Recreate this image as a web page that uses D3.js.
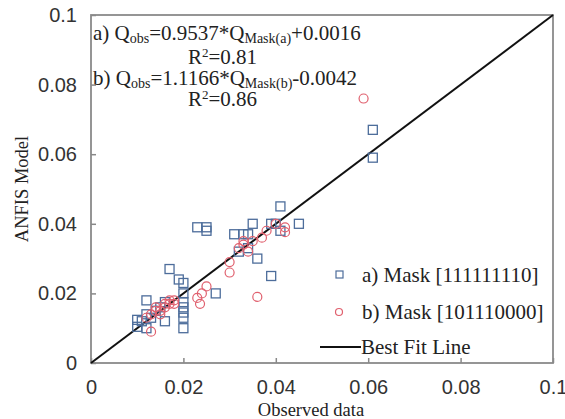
<!DOCTYPE html>
<html>
<head>
<meta charset="utf-8">
<script src="https://cdn.jsdelivr.net/npm/d3@7/dist/d3.min.js"></script>
<style>
  body { margin: 0; background: #fff; }
  svg { display: block; font-family: "Liberation Serif", "Times New Roman", serif; }
  .tick text { font-size: 20px; fill: #333; }
  .label { font-size: 18.5px; fill: #222; }
  .leg { font-size: 21px; fill: #222; }
  .eq { font-size: 21px; fill: #222; }
</style>
</head>
<body>
<svg width="565" height="419"></svg>
<script>
// **** Data ****
var maskA_obs = [0.061, 0.061, 0.045, 0.041, 0.041, 0.039, 0.035, 0.034, 0.033, 0.031,
                 0.025, 0.025, 0.023, 0.036, 0.039, 0.027, 0.017, 0.019, 0.020, 0.020,
                 0.020, 0.020, 0.020, 0.020, 0.020, 0.016, 0.016, 0.012, 0.012, 0.011,
                 0.010, 0.010, 0.012, 0.014, 0.015, 0.013, 0.034, 0.032, 0.040];
var maskA_model = [0.067, 0.059, 0.040, 0.045, 0.038, 0.040, 0.040, 0.037, 0.037, 0.037,
                   0.038, 0.039, 0.039, 0.030, 0.025, 0.020, 0.027, 0.024, 0.023, 0.0175,
                   0.016, 0.0145, 0.020, 0.013, 0.010, 0.0175, 0.012, 0.018, 0.014, 0.012,
                   0.0124, 0.0104, 0.010, 0.015, 0.016, 0.013, 0.033, 0.032, 0.040];

var maskB_obs = [0.059, 0.042, 0.040, 0.038, 0.037, 0.035, 0.034, 0.033, 0.032, 0.030,
                 0.030, 0.036, 0.024, 0.023, 0.0236, 0.025, 0.018, 0.017, 0.016, 0.015,
                 0.014, 0.013, 0.013, 0.016, 0.014, 0.015, 0.012, 0.017, 0.018, 0.033, 0.042];
var maskB_model = [0.076, 0.039, 0.040, 0.038, 0.036, 0.035, 0.032, 0.034, 0.033, 0.029,
                   0.026, 0.019, 0.020, 0.0187, 0.017, 0.022, 0.017, 0.017, 0.016, 0.015,
                   0.015, 0.014, 0.009, 0.017, 0.016, 0.014, 0.013, 0.018, 0.018, 0.035, 0.0376];

var ticks = [0, 0.02, 0.04, 0.06, 0.08, 0.1];
var fitLine = [0, 0.1];

// **** Scales and axes ****
var svg = d3.select('svg');
var plotL = 91, plotR = 553, plotT = 15, plotB = 363;

var xScale = d3.scaleLinear().domain([0, 0.1]).range([plotL, plotR]);
var yScale = d3.scaleLinear().domain([0, 0.1]).range([plotB, plotT]);

var fmt = function(d) { return d === 0 ? '0' : String(+d.toFixed(2)); };

svg.append('g').attr('class', 'x axis')
    .attr('transform', 'translate(0,' + plotB + ')')
    .call(d3.axisBottom(xScale).tickValues(ticks).tickSizeInner(-5).tickSizeOuter(0).tickPadding(17).tickFormat(fmt));

svg.append('g').attr('class', 'y axis')
    .attr('transform', 'translate(' + plotL + ',0)')
    .call(d3.axisLeft(yScale).tickValues(ticks).tickSizeInner(-5).tickSizeOuter(0).tickPadding(14).tickFormat(fmt));

svg.selectAll('.axis .domain').remove();
svg.selectAll('.axis line').attr('stroke', '#888').attr('stroke-width', 1.5);

// plot frame
svg.append('rect')
    .attr('x', plotL).attr('y', plotT)
    .attr('width', plotR - plotL).attr('height', plotB - plotT)
    .attr('fill', 'none').attr('stroke', '#8a8a8a').attr('stroke-width', 1.8);

svg.append('text').attr('class', 'label')
    .attr('text-anchor', 'middle')
    .attr('transform', 'translate(311,416)')
    .text('Observed data');

svg.append('text').attr('class', 'label')
    .attr('text-anchor', 'middle')
    .attr('transform', 'translate(28,' + ((plotT + plotB) / 2) + ') rotate(-90)')
    .text('ANFIS Model');

// **** Best fit line ****
svg.append('line')
    .attr('x1', xScale(fitLine[0])).attr('y1', yScale(fitLine[0]))
    .attr('x2', xScale(fitLine[1])).attr('y2', yScale(fitLine[1]))
    .attr('stroke', '#111').attr('stroke-width', 2);

// **** Points ****
var ptsA = maskA_obs.map(function(d, i) { return {x: d, y: maskA_model[i]}; });
var ptsB = maskB_obs.map(function(d, i) { return {x: d, y: maskB_model[i]}; });

svg.append('g').selectAll('rect')
    .data(ptsA).enter().append('rect')
    .attr('x', function(d) { return xScale(d.x) - 4.5; })
    .attr('y', function(d) { return yScale(d.y) - 4.5; })
    .attr('width', 9).attr('height', 9)
    .attr('fill', 'none').attr('stroke', '#4d6d9b').attr('stroke-width', 1.3);

svg.append('g').selectAll('circle')
    .data(ptsB).enter().append('circle')
    .attr('cx', function(d) { return xScale(d.x); })
    .attr('cy', function(d) { return yScale(d.y); })
    .attr('r', 4.5)
    .attr('fill', 'none').attr('stroke', '#e0606e').attr('stroke-width', 1.2);

// **** Equations ****
function equation(y, prefix, coef, sub, rest) {
    var t = svg.append('text').attr('class', 'eq').attr('x', 93).attr('y', y);
    t.append('tspan').text(prefix + 'Q');
    t.append('tspan').attr('font-size', '14px').attr('dy', 3).text('obs');
    t.append('tspan').attr('dy', -3).text('=' + coef + '*Q');
    t.append('tspan').attr('font-size', '14px').attr('dy', 3).text(sub);
    t.append('tspan').attr('dy', -3).text(rest);
}
function rsq(y, val) {
    var t = svg.append('text').attr('class', 'eq').attr('x', 188).attr('y', y);
    t.append('tspan').text('R');
    t.append('tspan').attr('font-size', '13px').attr('dy', -7).text('2');
    t.append('tspan').attr('dy', 7).text('=' + val);
}
equation(40, 'a) ', '0.9537', 'Mask(a)', '+0.0016');
rsq(64, '0.81');
equation(85, 'b) ', '1.1166', 'Mask(b)', '-0.0042');
rsq(106, '0.86');

// **** Legend ****
var legend = svg.append('g');
legend.append('rect').attr('x', 336).attr('y', 271).attr('width', 7).attr('height', 7)
    .attr('fill', 'none').attr('stroke', '#4d6d9b').attr('stroke-width', 1.2);
legend.append('text').attr('class', 'leg').attr('x', 362).attr('y', 282).text('a) Mask [111111110]');
legend.append('circle').attr('cx', 339).attr('cy', 312).attr('r', 3.5)
    .attr('fill', 'none').attr('stroke', '#e0606e').attr('stroke-width', 1.2);
legend.append('text').attr('class', 'leg').attr('x', 362).attr('y', 319).text('b) Mask [101110000]');
legend.append('line').attr('x1', 320).attr('x2', 361).attr('y1', 347).attr('y2', 347)
    .attr('stroke', '#111').attr('stroke-width', 2);
legend.append('text').attr('class', 'leg').attr('x', 361).attr('y', 354).text('Best Fit Line');
</script>
</body>
</html>
